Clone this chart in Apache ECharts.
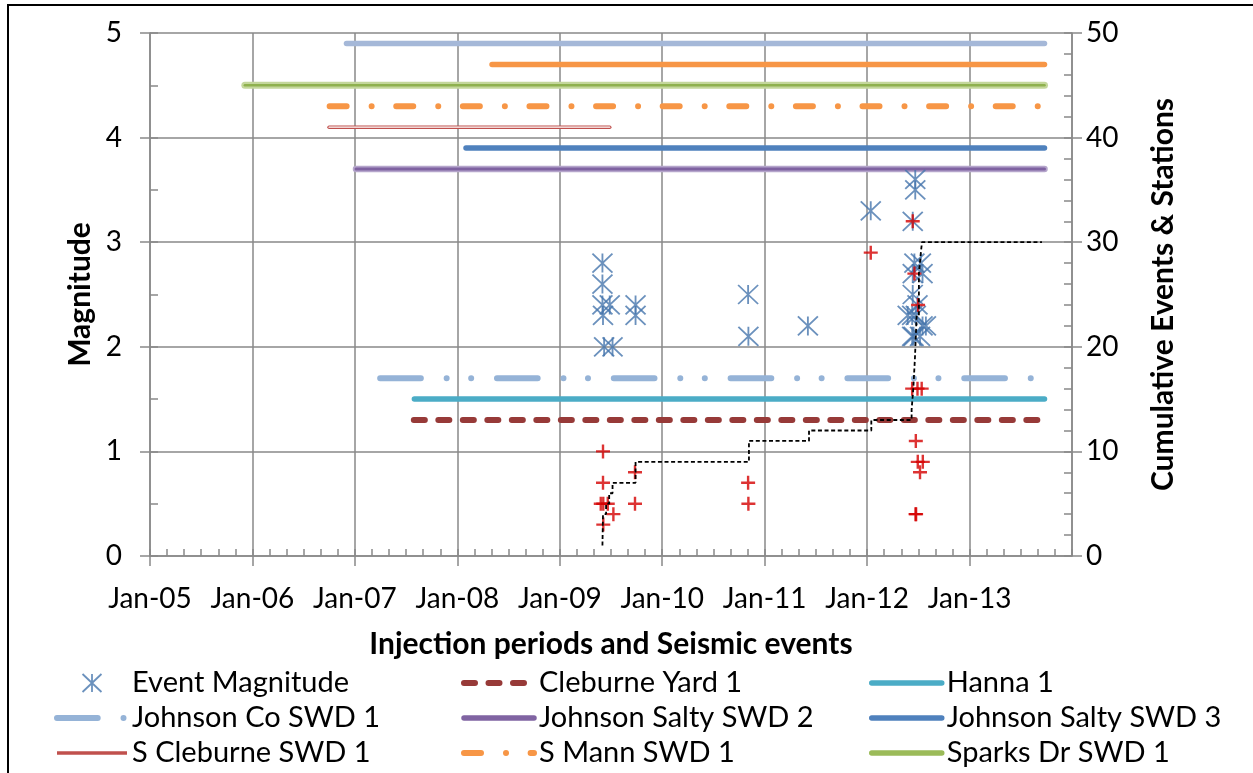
<!DOCTYPE html>
<html><head><meta charset="utf-8">
<script src="https://cdn.jsdelivr.net/npm/echarts@6/dist/echarts.min.js"></script>
<style>html,body{margin:0;padding:0;background:#fff}#c{width:1253px;height:773px}</style>
</head><body><div id="c"></div>
<script>
// ---------- tick labels ----------
const xTickLabels = ['Jan-05','Jan-06','Jan-07','Jan-08','Jan-09','Jan-10','Jan-11','Jan-12','Jan-13'];
const magTickLabels = ['0','1','2','3','4','5'];
const cumTickLabels = ['0','10','20','30','40','50'];

// ---------- seismic events (Event Magnitude, blue asterisks) ----------
const eventDates = ['2009-06-02','2009-06-02','2009-06-02','2009-06-04','2009-06-08','2009-06-28','2009-07-08','2009-09-28','2009-09-28',
  '2010-11-03','2010-11-04','2011-06-04','2012-01-14',
  '2012-06-21','2012-06-21','2012-06-12','2012-06-18','2012-07-11','2012-07-17','2012-06-12','2012-06-12','2012-06-29',
  '2012-05-25','2012-06-10','2012-07-29','2012-06-23','2012-06-10','2012-07-17','2012-06-15','2012-07-08'];
const eventMags = [2.8,2.6,2.4,2.3,2.0,2.4,2.0,2.4,2.3,
  2.5,2.1,2.2,3.3,
  3.6,3.5,3.2,2.8,2.8,2.7,2.7,2.5,2.4,
  2.3,2.3,2.2,2.3,2.1,2.2,2.1,2.1];

// ---------- second magnitude set (red plus, no legend entry) ----------
const altDates = ['2009-06-04','2009-06-04','2009-05-27','2009-06-05','2009-06-21','2009-07-11','2009-06-05','2009-09-26','2009-09-26',
  '2010-11-03','2010-11-04','2012-01-14',
  '2012-06-12','2012-06-18','2012-07-01','2012-06-10','2012-06-29','2012-07-14','2012-06-23','2012-06-30','2012-07-18','2012-07-08','2012-06-22','2012-06-24'];
const altMags = [1.0,0.7,0.5,0.5,0.5,0.4,0.3,0.8,0.5,
  0.7,0.5,2.9,
  3.2,2.7,2.4,1.6,1.6,1.6,1.1,0.9,0.9,0.8,0.4,0.4];

// ---------- cumulative events (right axis, dashed step) ----------
const cumDates = ['2009-06-02','2009-06-04','2009-06-15','2009-06-26','2009-07-08','2009-09-28','2010-11-06','2011-06-08','2012-01-16',
  '2012-06-08','2012-06-14','2012-06-20','2012-06-26','2012-07-04','2012-07-11','2012-07-15','2013-09-16'];
const cumCounts = [1,4,5,6,7,9,11,12,13,14,16,19,23,27,29,30,30];

// ---------- injection periods ----------
const wellNames = ['Cleburne Yard 1','Hanna 1','Johnson Co SWD 1','Johnson Salty SWD 2','Johnson Salty SWD 3','S Cleburne SWD 1','S Mann SWD 1','Sparks Dr SWD 1','Series 10','Series 11'];
const wellStart = ['2007-07-30','2007-08-01','2007-04-01','2007-01-05','2008-02-01','2006-10-01','2006-10-03','2005-12-05','2008-05-04','2006-12-02'];
const wellEnd   = ['2013-09-25','2013-09-25','2013-09-25','2013-09-25','2013-09-25','2009-06-28','2013-09-25','2013-09-25','2013-09-25','2013-09-25'];
const wellLevel = [1.3,1.5,1.7,3.7,3.9,4.1,4.3,4.5,4.7,4.9];

// ---------- helpers ----------
function yf(s){const p=s.split('-').map(Number);const t=Date.UTC(p[0],p[1]-1,p[2]);const a=Date.UTC(p[0],0,1),b=Date.UTC(p[0]+1,0,1);return p[0]+(t-a)/(b-a);}
const FONT='Lato';
const GRID='#898989';
const ASTER='path://M0,0L20,19M20,0L0,19M10,0L10,19';
const PLUS='path://M7,0L7,14M0,7L14,7';
const BLUE='#4675ad';

// style per well: [outer lineStyle, optional inner lineStyle, legend lineStyle]
const wellStyle = {
  'Cleburne Yard 1':[{color:'#973a38',width:6,type:[11,13.5],cap:'round'},null,{color:'#973a38',width:6,type:[11,13.5],cap:'round'}],
  'Hanna 1':[{color:'#4bacc6',width:5.5,cap:'round'},null,{color:'#4bacc6',width:5.5,cap:'round'}],
  'Johnson Co SWD 1':[{color:'#95b3d7',width:6,type:[40.7,25.8,0.01,24.5,0.01,25.8],cap:'round'},null,{color:'#95b3d7',width:6,type:[40.7,25.8,0.01,24.5,0.01,25.8],cap:'round'}],
  'Johnson Salty SWD 2':[{color:'#b5a5cb',width:6.5,cap:'round'},{color:'#7f62a1',width:3,cap:'round'},{color:'#8064a2',width:5.5,cap:'round'}],
  'Johnson Salty SWD 3':[{color:'#4f81bd',width:5.5,cap:'round'},null,{color:'#4f81bd',width:5.5,cap:'round'}],
  'S Cleburne SWD 1':[{color:'#c0504d',width:3.5,cap:'round'},{color:'#ffffff',width:1.3,cap:'round'},{color:'#c0504d',width:3.5,cap:'butt'}],
  'S Mann SWD 1':[{color:'#f79646',width:6,type:[17,25,0.01,24.6],cap:'round'},null,{color:'#f79646',width:6,type:[17,25,0.01,24.6],cap:'round'}],
  'Sparks Dr SWD 1':[{color:'#c4d79b',width:7,cap:'round'},{color:'#8fb14e',width:2.5,cap:'round'},{color:'#9bbb59',width:5.5,cap:'round'}],
  'Series 10':[{color:'#f79646',width:5.5,cap:'round'},null,null],
  'Series 11':[{color:'#a5b8d8',width:5.5,cap:'round'},null,null]
};

const series = [];
wellNames.forEach((n,i)=>{
  const d=[[yf(wellStart[i]),wellLevel[i]],[yf(wellEnd[i]),wellLevel[i]]];
  const st=wellStyle[n];
  series.push({type:'line',name:n,data:d,symbol:'none',xAxisIndex:0,yAxisIndex:0,lineStyle:st[0],itemStyle:{color:st[0].color},silent:true,z:2});
  if(st[1]) series.push({type:'line',data:d,symbol:'none',xAxisIndex:0,yAxisIndex:0,lineStyle:st[1],itemStyle:{color:st[1].color},silent:true,z:2});
});
series.push({type:'scatter',name:'Event Magnitude',data:eventDates.map((d,i)=>[yf(d),eventMags[i]]),symbol:ASTER,symbolSize:[20,19],
  itemStyle:{color:'none',borderColor:BLUE,borderWidth:1.8},z:3});
series.push({type:'scatter',name:'Alt Magnitude',data:altDates.map((d,i)=>[yf(d),altMags[i]]),symbol:PLUS,symbolSize:[14,14],
  itemStyle:{color:'none',borderColor:'#d40000',borderWidth:2.4},z:4});
series.push({type:'line',name:'Cumulative',data:cumDates.map((d,i)=>[yf(d),cumCounts[i]]),yAxisIndex:1,step:'end',symbol:'none',
  lineStyle:{color:'#000',width:1.8,type:[4,2.6]},itemStyle:{color:'#000'},z:5});

function legItem(n){
  if(n==='Event Magnitude') return {name:n,icon:ASTER,itemStyle:{color:'none',borderColor:BLUE,borderWidth:1.8}};
  return {name:n,itemStyle:{opacity:0},lineStyle:wellStyle[n][2]};
}
const legendCols=[['Event Magnitude','Johnson Co SWD 1','S Cleburne SWD 1'],['Cleburne Yard 1','Johnson Salty SWD 2','S Mann SWD 1'],['Hanna 1','Johnson Salty SWD 3','Sparks Dr SWD 1']];
const legendLeft=[54,461,869];
const legends=legendCols.map((c,k)=>({orient:'vertical',left:legendLeft[k],top:665.5,padding:0,itemWidth:70,itemHeight:18,itemGap:0,selectedMode:false,
  textStyle:{fontFamily:FONT,fontSize:29,color:'#000',lineHeight:35},data:c.map(legItem)}));

const axLine={show:true,lineStyle:{color:GRID,width:1.5}};
const lab={color:'#000',fontFamily:FONT,fontSize:28};
const ttl={color:'#000',fontFamily:FONT,fontSize:30,fontWeight:'bold'};

const option={
  animation:false,
  backgroundColor:'#fff',
  grid:{left:150,right:181,top:33,bottom:217,containLabel:false},
  legend:legends,
  xAxis:[
    {type:'value',min:2005,max:2014,interval:1,position:'bottom',
     axisLine:Object.assign({onZero:false},axLine),axisTick:{show:true,inside:false,length:10,lineStyle:{color:GRID,width:1.5}},
     axisLabel:Object.assign({margin:29,showMaxLabel:false,formatter:v=>xTickLabels[Math.round(v-2005)]||''},lab),
     splitLine:{show:true,lineStyle:{color:GRID,width:1.5}},
     name:'Injection periods and Seismic events',nameLocation:'middle',nameGap:73,nameTextStyle:ttl},
    {type:'value',min:2005,max:2014,interval:1/6,position:'bottom',axisLine:{show:false,onZero:false},
     axisTick:{show:true,inside:true,length:7,lineStyle:{color:GRID,width:1.5}},axisLabel:{show:false},splitLine:{show:false}}
  ],
  yAxis:[
    {type:'value',min:0,max:5,interval:1,position:'left',axisLine:axLine,
     axisTick:{show:true,inside:false,length:10,lineStyle:{color:GRID,width:1.5}},
     axisLabel:Object.assign({margin:28,formatter:v=>magTickLabels[Math.round(v)]},lab),
     splitLine:{show:true,lineStyle:{color:GRID,width:1.5}},
     name:'Magnitude',nameLocation:'middle',nameGap:55,nameRotate:90,nameTextStyle:ttl},
    {type:'value',min:0,max:50,interval:10,position:'right',axisLine:axLine,
     axisTick:{show:true,inside:false,length:10,lineStyle:{color:GRID,width:1.5}},
     axisLabel:Object.assign({margin:14,formatter:v=>cumTickLabels[Math.round(v/10)]},lab),
     splitLine:{show:false},
     name:'Cumulative Events & Stations',nameLocation:'middle',nameGap:76,nameRotate:90,nameTextStyle:ttl},
    {type:'value',min:0,max:5,interval:0.5,position:'left',axisLine:{show:false},
     axisTick:{show:true,inside:true,length:8,lineStyle:{color:GRID,width:1.5}},axisLabel:{show:false},splitLine:{show:false}},
    {type:'value',min:0,max:50,interval:2,position:'right',axisLine:{show:false},
     axisTick:{show:true,inside:true,length:8,lineStyle:{color:GRID,width:1.5}},axisLabel:{show:false},splitLine:{show:false}}
  ],
  graphic:[{type:'rect',silent:true,z:100,shape:{x:8,y:5,width:1400,height:900},style:{fill:null,stroke:'#000',lineWidth:2}}],
  series:series
};
const chart=echarts.init(document.getElementById('c'),null,{renderer:'canvas'});
chart.setOption(option);
</script></body></html>
